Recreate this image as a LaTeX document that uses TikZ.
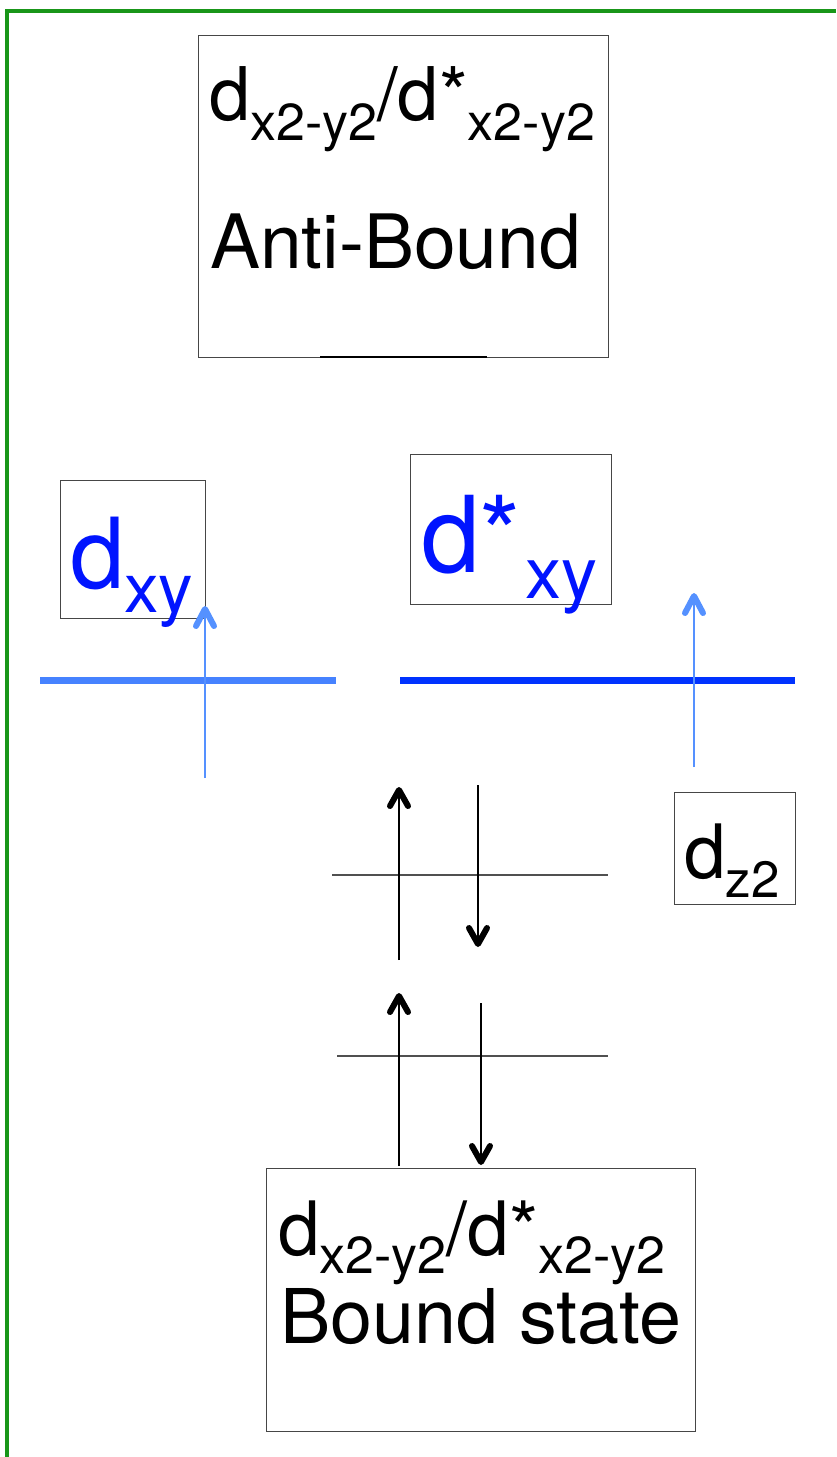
\documentclass[tikz,border=0pt]{standalone}
\usepackage{fontspec}
\setmainfont{TeX Gyre Heros}
\definecolor{frameg}{RGB}{25,150,25}
\definecolor{boxgray}{RGB}{70,70,70}
\definecolor{levgray}{RGB}{80,80,80}
\definecolor{lightlev}{RGB}{70,130,255}
\definecolor{darklev}{RGB}{0,50,255}
\definecolor{spinblue}{RGB}{85,145,255}
\definecolor{txtblue}{RGB}{0,20,255}
\newcommand\lowsub[3]{\raisebox{-#1}{\fontsize{#2}{#2}\selectfont #3}}
\begin{document}
\begin{tikzpicture}[x=1pt,y=-1pt,
  boxst/.style={draw=boxgray, line width=1.2pt, inner sep=0pt, anchor=north west},
  lbl/.style={anchor=base west, inner sep=0pt, outer sep=0pt},
  levelthin/.style={draw=levgray, line width=1.2pt},
  shaftblack/.style={draw=black, line width=1.5pt},
  shaftblue/.style={draw=spinblue, line width=1.8pt},
  chevblack/.style={draw=black, line width=6pt, line cap=round, line join=round},
  chevblue/.style={draw=spinblue, line width=6pt, line cap=round, line join=round}]
\useasboundingbox (0,0) rectangle (836,1457);
% frame
\coordinate (fa) at (7,1457);
\coordinate (fb) at (7,11);
\coordinate (fc) at (836,11);
\draw[frameg, line width=3.5pt] (fa) -- (fb) -- (fc);

% top box
\node[boxst, minimum width=410pt, minimum height=322pt] (topbox) at (198,35) {};
\node[lbl] (toplbl1) at (209,120) {\fontsize{74}{80}\selectfont d\lowsub{20pt}{52}{x2-y2}/d*\lowsub{20pt}{52}{x2-y2}};
\node[lbl] (toplbl2) at (210,268) {\fontsize{75}{80}\selectfont Anti-Bound};
\coordinate (ab1) at (320,357);
\coordinate (ab2) at (487,357);
\draw[black, line width=2pt] (ab1) -- (ab2);

% dxy
\node[boxst, minimum width=145pt, minimum height=138pt] (dxybox) at (60,480) {};
\node[lbl, text=txtblue] (dxylbl) at (70,588) {\fontsize{98}{100}\selectfont d\lowsub{24pt}{69}{xy}};
\coordinate (ll1) at (40,680);
\coordinate (ll2) at (336,680);
\draw[lightlev, line width=7pt] (ll1) -- (ll2);
\coordinate (s1a) at (205,778);
\coordinate (s1b) at (205,609);
\draw[shaftblue] (s1a) -- (s1b);
\draw[chevblue] (s1b) ++(-9,17) -- (s1b) -- ++(9,17);

% d*xy
\node[boxst, minimum width=201pt, minimum height=150pt] (dsxybox) at (410,454) {};
\node[lbl, text=txtblue] (dsxylbl) at (421,572) {\fontsize{106}{110}\selectfont d*\hspace{4pt}\lowsub{26pt}{72}{xy}};
\coordinate (dl1) at (400,680);
\coordinate (dl2) at (795,680);
\draw[darklev, line width=7pt] (dl1) -- (dl2);
\coordinate (s2a) at (694,767);
\coordinate (s2b) at (694,596);
\draw[shaftblue] (s2a) -- (s2b);
\draw[chevblue] (s2b) ++(-9,17) -- (s2b) -- ++(9,17);

% dz2
\node[boxst, minimum width=121pt, minimum height=112pt] (dzbox) at (674,792) {};
\node[lbl] (dzlbl) at (684,878) {\fontsize{75}{80}\selectfont d\lowsub{19pt}{51}{z2}};

% upper level
\coordinate (u1) at (332,875);
\coordinate (u2) at (608,875);
\draw[levelthin] (u1) -- (u2);
\coordinate (uua) at (399,960);
\coordinate (uub) at (399,790);
\draw[shaftblack] (uua) -- (uub);
\draw[chevblack] (uub) ++(-9,16) -- (uub) -- ++(9,16);
\coordinate (uda) at (478,785);
\coordinate (udb) at (478,944);
\draw[shaftblack] (uda) -- (udb);
\draw[chevblack] (udb) ++(-9,-16) -- (udb) -- ++(9,-16);

% lower level
\coordinate (l1) at (337,1056);
\coordinate (l2) at (608,1056);
\draw[levelthin] (l1) -- (l2);
\node[boxst, minimum width=429pt, minimum height=263pt] (botbox) at (266,1168) {};
\coordinate (lua) at (399,1166);
\coordinate (lub) at (399,996);
\draw[shaftblack] (lua) -- (lub);
\draw[chevblack] (lub) ++(-9,16) -- (lub) -- ++(9,16);
\coordinate (lda) at (481,1003);
\coordinate (ldb) at (481,1162);
\draw[shaftblack] (lda) -- (ldb);
\draw[chevblack] (ldb) ++(-9,-16) -- (ldb) -- ++(9,-16);

\node[lbl] (botlbl1) at (278,1255) {\fontsize{75}{80}\selectfont d\lowsub{18pt}{52}{x2-y2}/d*\lowsub{18pt}{52}{x2-y2}};
\node[lbl] (botlbl2) at (280,1343) {\fontsize{75.5}{80}\selectfont Bound state};
\end{tikzpicture}
\end{document}
